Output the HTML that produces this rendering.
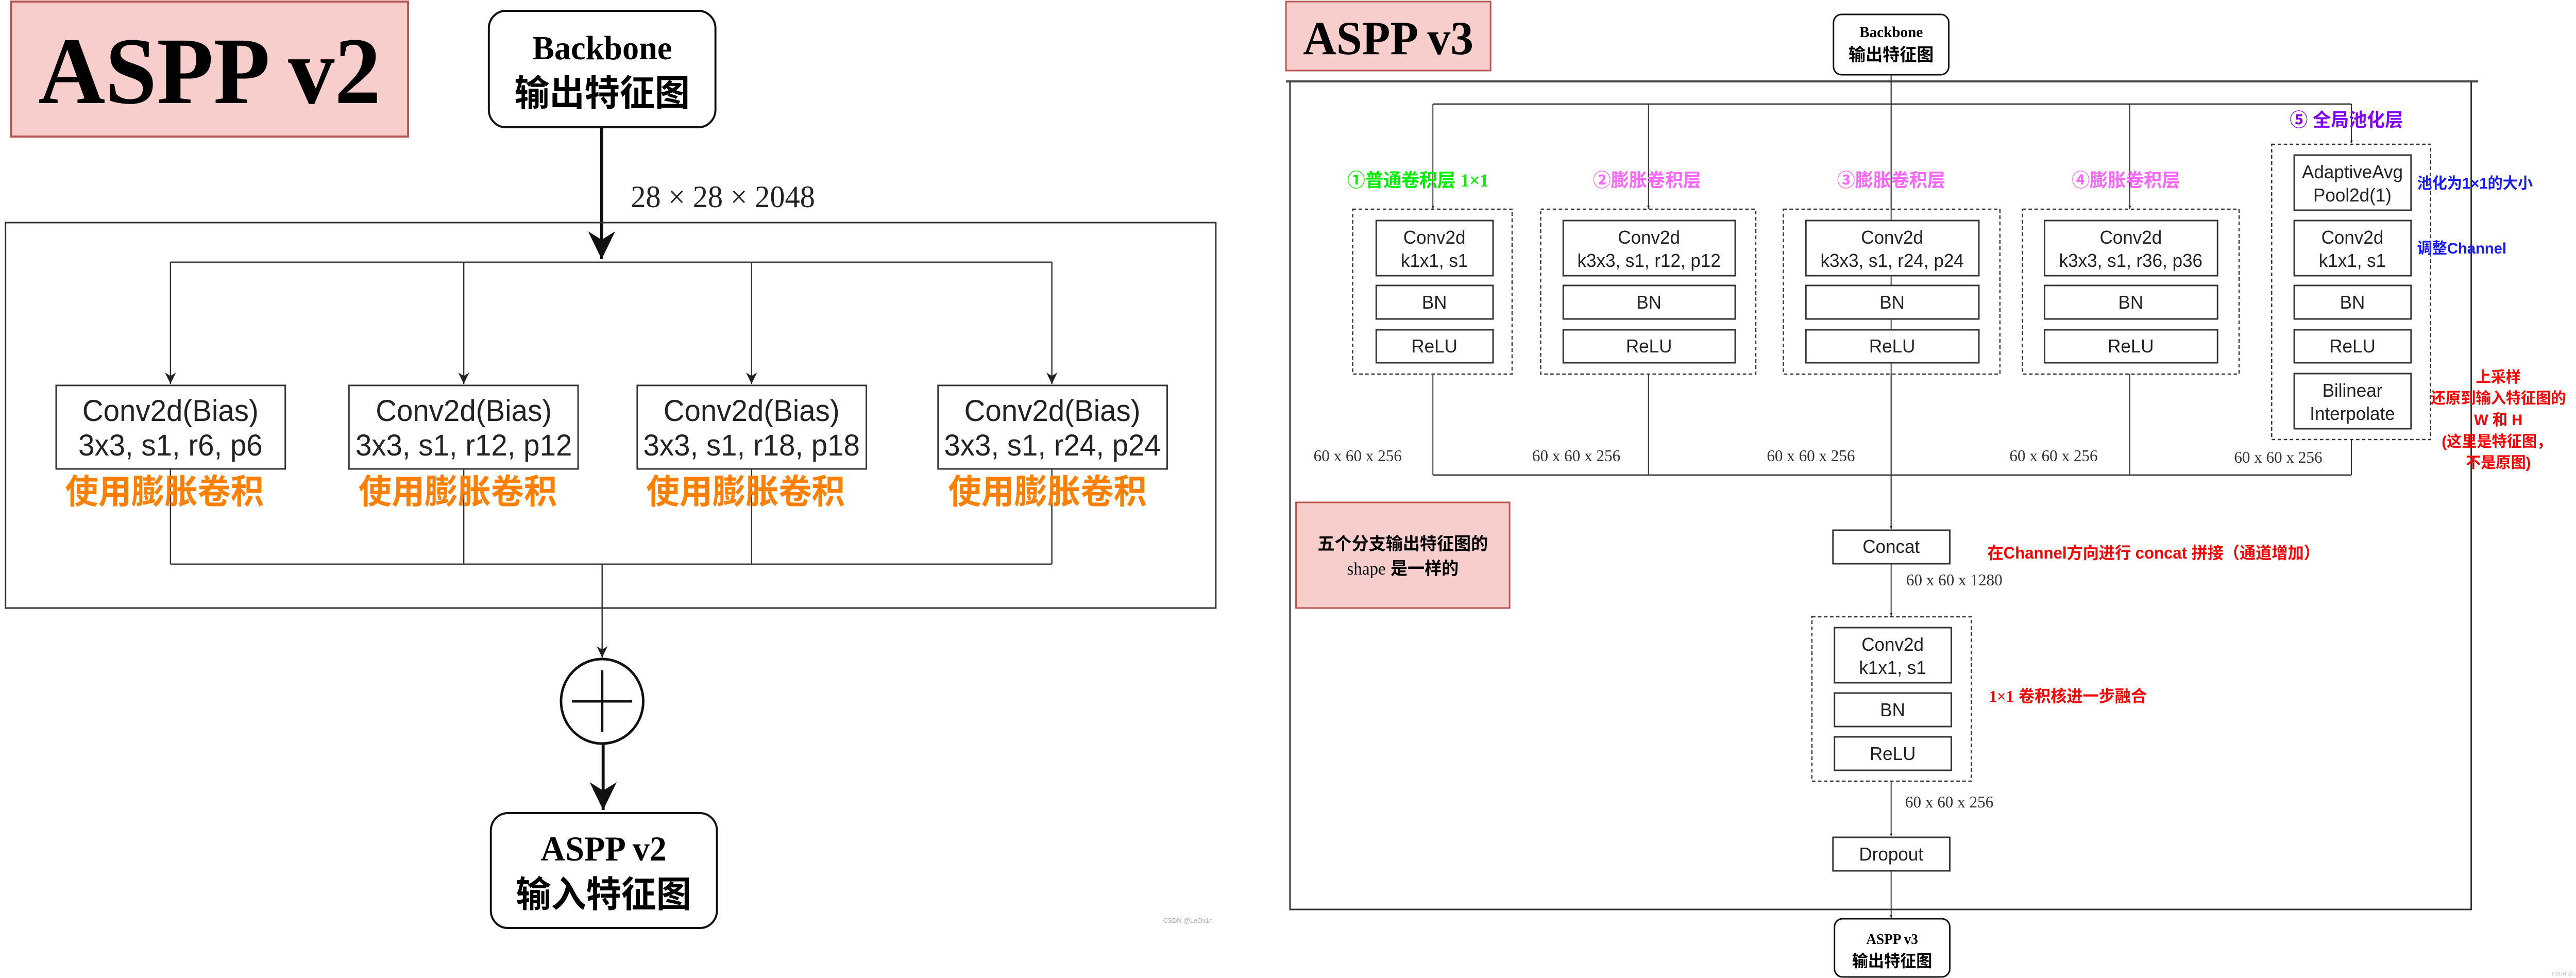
<!DOCTYPE html>
<html><head><meta charset="utf-8"><style>
html,body{margin:0;padding:0;background:#fff;overflow:hidden;width:100vw;height:100vh;}
svg{display:block;width:100vw;height:100vh;position:absolute;left:0;top:0;}
.s{font-family:"Liberation Sans","Noto Sans CJK SC",sans-serif;}
.t{font-family:"Liberation Serif","Noto Serif CJK SC","Noto Sans CJK SC",serif;}
.c{font-family:"Liberation Sans","Noto Sans CJK SC",sans-serif;font-weight:bold;}
</style></head><body>
<svg viewBox="0 0 5138 1898" preserveAspectRatio="none" xmlns="http://www.w3.org/2000/svg">
<defs>
<marker id="a" viewBox="0 0 10 10" refX="10" refY="5" markerWidth="6" markerHeight="6" markerUnits="userSpaceOnUse" orient="auto"><path d="M0,0 L10,5 L0,10 L3,5 z" fill="#222"/></marker>
<marker id="am" viewBox="0 0 10 10" refX="10" refY="5" markerWidth="22" markerHeight="22" markerUnits="userSpaceOnUse" orient="auto"><path d="M0,0 L10,5 L0,10 L3,5 z" fill="#222"/></marker>
<marker id="ab" viewBox="0 0 10 10" refX="10" refY="5" markerWidth="9" markerHeight="9" orient="auto"><path d="M0,0 L10,5 L0,10 L3,5 z" fill="#111"/></marker>
</defs>
<rect width="5138" height="1898" fill="#fff"/>

<!-- ================= LEFT: ASPP v2 ================= -->
<rect x="22" y="3" width="792" height="262" fill="#f8cecc" stroke="#b85450" stroke-width="4"/>
<text x="418" y="200" text-anchor="middle" class="t" font-weight="bold" font-size="185">ASPP v2</text>

<rect x="975" y="21" width="452" height="226" rx="34" fill="#fff" stroke="#111" stroke-width="4"/>
<text x="1201" y="115" text-anchor="middle" class="t" font-weight="bold" font-size="66">Backbone</text>
<text x="1201" y="205" text-anchor="middle" class="c" font-size="70">输出特征图</text>

<line x1="1200" y1="247" x2="1200" y2="503" stroke="#111" stroke-width="6" marker-end="url(#ab)"/>
<text x="1258" y="402" class="t" font-size="60" fill="#222">28 × 28 × 2048</text>

<rect x="11" y="432" width="2414" height="748" fill="none" stroke="#333" stroke-width="3"/>
<polyline points="340,509 2098,509" fill="none" stroke="#444" stroke-width="3"/>
<line x1="340" y1="509" x2="340" y2="745" stroke="#333" stroke-width="2.5" marker-end="url(#am)"/>
<line x1="925" y1="509" x2="925" y2="745" stroke="#333" stroke-width="2.5" marker-end="url(#am)"/>
<line x1="1499" y1="509" x2="1499" y2="745" stroke="#333" stroke-width="2.5" marker-end="url(#am)"/>
<line x1="2098" y1="509" x2="2098" y2="745" stroke="#333" stroke-width="2.5" marker-end="url(#am)"/>
<line x1="340" y1="910" x2="340" y2="1095" stroke="#333" stroke-width="2.5"/>
<line x1="925" y1="910" x2="925" y2="1095" stroke="#333" stroke-width="2.5"/>
<line x1="1499" y1="910" x2="1499" y2="1095" stroke="#333" stroke-width="2.5"/>
<line x1="2098" y1="910" x2="2098" y2="1095" stroke="#333" stroke-width="2.5"/>
<line x1="340" y1="1095" x2="2098" y2="1095" stroke="#444" stroke-width="3"/>
<line x1="1201" y1="1095" x2="1201" y2="1276" stroke="#333" stroke-width="2.5" marker-end="url(#am)"/>

<g class="s" font-size="58" fill="#222" text-anchor="middle">
<rect x="112" y="748" width="457" height="162" fill="#fff" stroke="#333" stroke-width="3"/>
<text x="340" y="817">Conv2d(Bias)</text><text x="340" y="884">3x3, s1, r6, p6</text>
<rect x="696" y="748" width="457" height="162" fill="#fff" stroke="#333" stroke-width="3"/>
<text x="925" y="817">Conv2d(Bias)</text><text x="925" y="884">3x3, s1, r12, p12</text>
<rect x="1271" y="748" width="457" height="162" fill="#fff" stroke="#333" stroke-width="3"/>
<text x="1499" y="817">Conv2d(Bias)</text><text x="1499" y="884">3x3, s1, r18, p18</text>
<rect x="1871" y="748" width="457" height="162" fill="#fff" stroke="#333" stroke-width="3"/>
<text x="2099" y="817">Conv2d(Bias)</text><text x="2099" y="884">3x3, s1, r24, p24</text>
</g>
<g class="c" font-size="66" fill="#ff8000" text-anchor="middle">
<text x="328" y="977">使用膨胀卷积</text>
<text x="913" y="977">使用膨胀卷积</text>
<text x="1487" y="977">使用膨胀卷积</text>
<text x="2089" y="977">使用膨胀卷积</text>
</g>

<circle cx="1201" cy="1361" r="82" fill="#fff" stroke="#111" stroke-width="5"/>
<line x1="1141" y1="1361" x2="1261" y2="1361" stroke="#111" stroke-width="5"/>
<line x1="1201" y1="1301" x2="1201" y2="1421" stroke="#111" stroke-width="5"/>
<line x1="1203" y1="1444" x2="1203" y2="1572" stroke="#111" stroke-width="6" marker-end="url(#ab)"/>

<rect x="979" y="1578" width="451" height="223" rx="34" fill="#fff" stroke="#111" stroke-width="4"/>
<text x="1204" y="1670" text-anchor="middle" class="t" font-weight="bold" font-size="68">ASPP v2</text>
<text x="1204" y="1760" text-anchor="middle" class="c" font-size="70">输入特征图</text>
<text x="2320" y="1791" class="s" font-size="13" fill="#aaa">CSDN @LeOv1n</text>

<!-- ================= RIGHT: ASPP v3 ================= -->
<rect x="2565" y="3" width="408" height="134" fill="#f8cecc" stroke="#b85450" stroke-width="3"/>
<text x="2769" y="105" text-anchor="middle" class="t" font-weight="bold" font-size="92">ASPP v3</text>

<rect x="3657" y="28" width="230" height="117" rx="16" fill="#fff" stroke="#111" stroke-width="3"/>
<text x="3772" y="72" text-anchor="middle" class="t" font-weight="bold" font-size="30">Backbone</text>
<text x="3772" y="118" text-anchor="middle" class="c" font-size="34">输出特征图</text>

<rect x="2573" y="158" width="2356" height="1607" fill="none" stroke="#333" stroke-width="3"/>
<line x1="2565" y1="158" x2="4943" y2="158" stroke="#444" stroke-width="4"/>

<line x1="3772" y1="145" x2="3772" y2="1026" stroke="#333" stroke-width="2" marker-end="url(#a)"/>
<line x1="2858" y1="202" x2="4690" y2="202" stroke="#444" stroke-width="3"/>
<g stroke="#333" stroke-width="2">
<line x1="2858" y1="202" x2="2858" y2="405" marker-end="url(#a)"/>
<line x1="3288" y1="202" x2="3288" y2="405" marker-end="url(#a)"/>
<line x1="4248" y1="202" x2="4248" y2="405" marker-end="url(#a)"/>
<line x1="4690" y1="202" x2="4690" y2="278" marker-end="url(#a)"/>
<line x1="2858" y1="726" x2="2858" y2="922"/>
<line x1="3288" y1="726" x2="3288" y2="922"/>
<line x1="4248" y1="726" x2="4248" y2="922"/>
<line x1="4690" y1="853" x2="4690" y2="922"/>
</g>
<line x1="2858" y1="922" x2="4690" y2="922" stroke="#444" stroke-width="3"/>

<g fill="#fff" stroke="#333" stroke-width="2.5" stroke-dasharray="7,5">
<rect x="2698" y="406" width="318" height="320"/>
<rect x="3073" y="406" width="429" height="320"/>
<rect x="3557" y="406" width="432" height="320"/>
<rect x="4034" y="406" width="432" height="320"/>
<rect x="4531" y="280" width="317" height="573"/>
<rect x="3614" y="1197" width="318" height="319"/>
</g>
<line x1="3772" y1="145" x2="3772" y2="1026" stroke="#333" stroke-width="2" marker-end="url(#a)"/>

<g fill="#fff" stroke="#333" stroke-width="3">
<rect x="2745" y="428" width="233" height="107"/><rect x="2745" y="554" width="233" height="65"/><rect x="2745" y="640" width="233" height="64"/>
<rect x="3118" y="428" width="343" height="107"/><rect x="3118" y="554" width="343" height="65"/><rect x="3118" y="640" width="343" height="64"/>
<rect x="3602" y="428" width="345" height="107"/><rect x="3602" y="554" width="345" height="65"/><rect x="3602" y="640" width="345" height="64"/>
<rect x="4078" y="428" width="345" height="107"/><rect x="4078" y="554" width="345" height="65"/><rect x="4078" y="640" width="345" height="64"/>
<rect x="4576" y="301" width="233" height="107"/><rect x="4576" y="428" width="233" height="107"/><rect x="4576" y="554" width="233" height="65"/><rect x="4576" y="640" width="233" height="64"/><rect x="4576" y="725" width="233" height="107"/>
</g>

<g class="s" font-size="36" fill="#222" text-anchor="middle">
<text x="2861" y="473">Conv2d</text><text x="2861" y="518">k1x1, s1</text><text x="2861" y="599">BN</text><text x="2861" y="684">ReLU</text>
<text x="3289" y="473">Conv2d</text><text x="3289" y="518">k3x3, s1, r12, p12</text><text x="3289" y="599">BN</text><text x="3289" y="684">ReLU</text>
<text x="3774" y="473">Conv2d</text><text x="3774" y="518">k3x3, s1, r24, p24</text><text x="3774" y="599">BN</text><text x="3774" y="684">ReLU</text>
<text x="4250" y="473">Conv2d</text><text x="4250" y="518">k3x3, s1, r36, p36</text><text x="4250" y="599">BN</text><text x="4250" y="684">ReLU</text>
<text x="4692" y="346">AdaptiveAvg</text><text x="4692" y="391">Pool2d(1)</text>
<text x="4692" y="473">Conv2d</text><text x="4692" y="518">k1x1, s1</text><text x="4692" y="599">BN</text><text x="4692" y="684">ReLU</text>
<text x="4692" y="770">Bilinear</text><text x="4692" y="815">Interpolate</text>
</g>

<g class="c" font-size="36">
<text x="2687" y="362" fill="#00ee00">①普通卷积层 <tspan class="t">1×1</tspan></text>
<text x="3285" y="362" fill="#ff66ff" text-anchor="middle">②膨胀卷积层</text>
<text x="3772" y="362" fill="#ff66ff" text-anchor="middle">③膨胀卷积层</text>
<text x="4240" y="362" fill="#ff66ff" text-anchor="middle">④膨胀卷积层</text>
<text x="4680" y="245" fill="#8000ff" text-anchor="middle">⑤ 全局池化层</text>
</g>
<g class="c" font-size="30" fill="#1a1aff">
<text x="4821" y="366">池化为1×1的大小</text>
<text x="4821" y="492">调整Channel</text>
</g>
<g class="c" font-size="30" fill="#ff0000" text-anchor="middle">
<text x="4983" y="742">上采样</text>
<text x="4983" y="783">还原到输入特征图的</text>
<text x="4983" y="825">W 和 H</text>
<text x="4980" y="867">(这里是特征图，</text>
<text x="4983" y="908">不是原图)</text>
</g>
<g class="t" font-size="32" fill="#333">
<text x="2620" y="895">60 x 60 x 256</text>
<text x="3056" y="895">60 x 60 x 256</text>
<text x="3524" y="895">60 x 60 x 256</text>
<text x="4008" y="895">60 x 60 x 256</text>
<text x="4456" y="898">60 x 60 x 256</text>
<text x="3802" y="1136">60 x 60 x 1280</text>
<text x="3800" y="1567">60 x 60 x 256</text>
</g>

<rect x="2585" y="975" width="426" height="205" fill="#f8cecc" stroke="#b85450" stroke-width="3"/>
<text x="2798" y="1067" text-anchor="middle" class="c" font-size="34">五个分支输出特征图的</text>
<text x="2798" y="1115" text-anchor="middle" class="c" font-size="34"><tspan class="t" font-weight="normal">shape</tspan> 是一样的</text>

<rect x="3656" y="1029" width="233" height="65" fill="#fff" stroke="#333" stroke-width="3"/>
<text x="3772" y="1073" text-anchor="middle" class="s" font-size="36" fill="#222">Concat</text>
<text x="3964" y="1084" class="c" font-size="32" fill="#ff0000">在Channel方向进行 concat 拼接（通道增加）</text>

<line x1="3772" y1="1094" x2="3772" y2="1195" stroke="#333" stroke-width="2" marker-end="url(#a)"/>
<g fill="#fff" stroke="#333" stroke-width="3">
<rect x="3659" y="1218" width="233" height="107"/><rect x="3659" y="1345" width="233" height="65"/><rect x="3659" y="1430" width="233" height="65"/>
</g>
<g class="s" font-size="36" fill="#222" text-anchor="middle">
<text x="3775" y="1263">Conv2d</text><text x="3775" y="1308">k1x1, s1</text><text x="3775" y="1390">BN</text><text x="3775" y="1475">ReLU</text>
</g>
<text x="3967" y="1362" class="c" font-size="32" fill="#ff0000"><tspan class="t">1×1</tspan> 卷积核进一步融合</text>

<line x1="3772" y1="1516" x2="3772" y2="1623" stroke="#333" stroke-width="2" marker-end="url(#a)"/>
<rect x="3656" y="1625" width="233" height="65" fill="#fff" stroke="#333" stroke-width="3"/>
<text x="3772" y="1670" text-anchor="middle" class="s" font-size="36" fill="#222">Dropout</text>
<line x1="3772" y1="1690" x2="3772" y2="1781" stroke="#333" stroke-width="2" marker-end="url(#a)"/>

<rect x="3659" y="1783" width="230" height="113" rx="16" fill="#fff" stroke="#111" stroke-width="3"/>
<text x="3774" y="1832" text-anchor="middle" class="t" font-weight="bold" font-size="28">ASPP v3</text>
<text x="3774" y="1876" text-anchor="middle" class="c" font-size="32">输出特征图</text>
<text x="5090" y="1893" class="s" font-size="10" fill="#bbb">CSDN @LeOv1n</text>
</svg>
</body></html>
